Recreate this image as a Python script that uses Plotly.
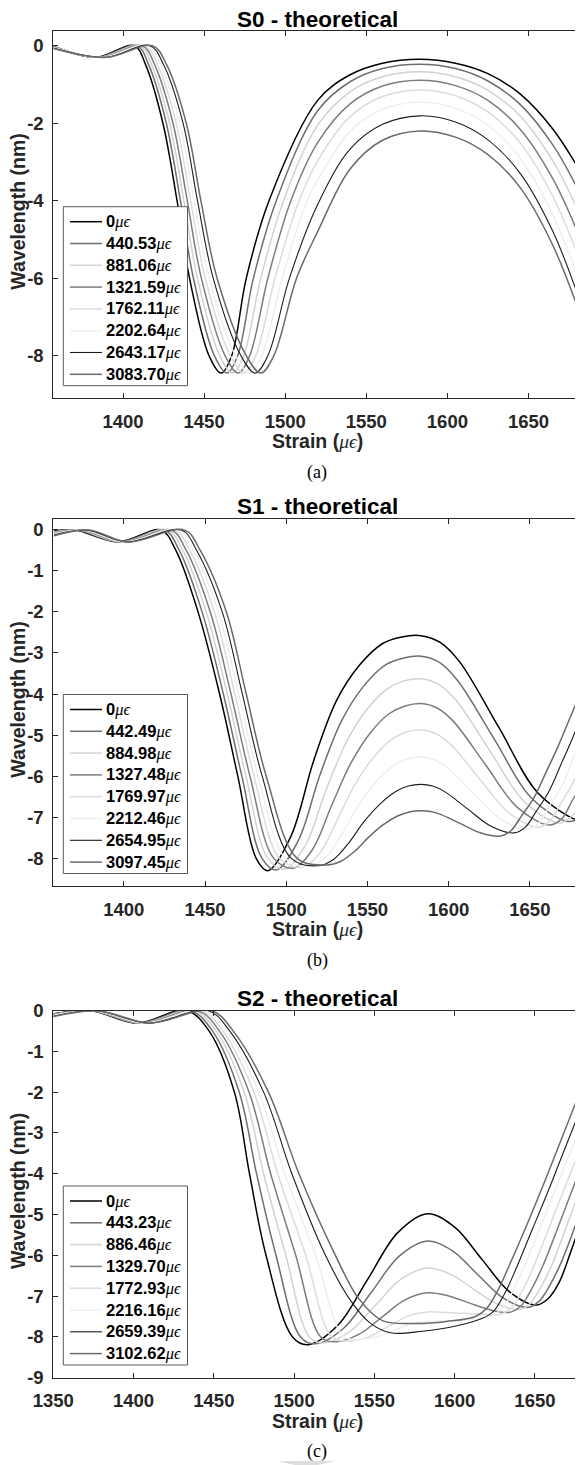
import plotly.graph_objects as go

# The page body has an 8 px default margin, so the figure is laid out in
# window pixels and shifted back by that offset.
WIN_W, WIN_H = 583, 1465
OFF = 8
W, H = WIN_W - OFF, WIN_H - OFF

# ---------------- styles per strain level (k = 0..7) ----------------
colors = ['#000000', '#6f6f6f', '#d2d2d2', '#7d7d7d', '#dcdcdc', '#efefef', '#1c1c1c', '#6a6a6a']
widths = [1.5, 1.5, 1.5, 1.5, 1.5, 1.5, 1.1, 1.5]

# ---------------- S0 ----------------
S0_labels = ['0', '440.53', '881.06', '1321.59', '1762.11', '2202.64', '2643.17', '3083.70']
S0_x = [
    [1357, 1383, 1407, 1414, 1424.6, 1433.3, 1441, 1453, 1460.5, 1467, 1476, 1490, 1520, 1540, 1560, 1583, 1605, 1625, 1645, 1665, 1682],
    [1357, 1384, 1408.6, 1415.9, 1426.7, 1435.4, 1443.4, 1456.3, 1464, 1470.7, 1480.4, 1494.5, 1520, 1540, 1560, 1583, 1605, 1625, 1645, 1665, 1682],
    [1357, 1385, 1410.2, 1417.7, 1428.7, 1437.5, 1445.9, 1459.6, 1467.5, 1474.4, 1484.9, 1499, 1520, 1540, 1560, 1583, 1605, 1625, 1645, 1665, 1682],
    [1357, 1386, 1411.8, 1419.6, 1430.8, 1439.6, 1448.3, 1462.9, 1471, 1478.1, 1489.3, 1503.5, 1520, 1540, 1560, 1583, 1605, 1625, 1645, 1665, 1682],
    [1357, 1387, 1413.4, 1421.4, 1432.8, 1441.7, 1450.7, 1466.2, 1474.5, 1481.8, 1493.7, 1508.5, 1520, 1540, 1560, 1583, 1605, 1625, 1645, 1665, 1682],
    [1357, 1388, 1415, 1423.3, 1434.9, 1443.8, 1453.1, 1469.4, 1478, 1485.6, 1498.1, 1513.5, 1520, 1540, 1560, 1583, 1605, 1625, 1645, 1665, 1682],
    [1357, 1389, 1416.6, 1425.1, 1437, 1445.9, 1455.6, 1472.7, 1481.5, 1489.3, 1502.6, 1520, 1540, 1560, 1583, 1605, 1625, 1645, 1665, 1682],
    [1357, 1390, 1418.2, 1427, 1439, 1448, 1458, 1476, 1485, 1493, 1507, 1520, 1540, 1560, 1583, 1605, 1625, 1645, 1665, 1682],
]
S0_y = [
    [-0.01, -0.30, 0.0, -0.5, -2, -4, -6, -8, -8.45, -8, -6, -4, -1.41, -0.75, -0.45, -0.35, -0.45, -0.72, -1.25, -2.15, -3.25],
    [-0.02, -0.30, 0.0, -0.5, -2, -4, -6, -8, -8.45, -8, -6, -4, -1.68, -0.93, -0.59, -0.48, -0.59, -0.91, -1.52, -2.56, -3.83],
    [-0.03, -0.30, 0.0, -0.5, -2, -4, -6, -8, -8.45, -8, -6, -4, -2.05, -1.19, -0.80, -0.67, -0.80, -1.15, -1.82, -2.97, -4.38],
    [-0.03, -0.30, 0.0, -0.5, -2, -4, -6, -8, -8.45, -8, -6, -4, -2.5, -1.50, -1.04, -0.89, -1.03, -1.41, -2.16, -3.43, -4.98],
    [-0.04, -0.30, 0.0, -0.5, -2, -4, -6, -8, -8.45, -8, -6, -4, -2.97, -1.83, -1.31, -1.14, -1.29, -1.71, -2.51, -3.89, -5.57],
    [-0.05, -0.30, 0.0, -0.5, -2, -4, -6, -8, -8.45, -8, -6, -4, -3.47, -2.21, -1.64, -1.45, -1.61, -2.05, -2.91, -4.36, -6.15],
    [-0.06, -0.30, 0.0, -0.5, -2, -4, -6, -8, -8.45, -8, -6, -4.1, -2.67, -2.03, -1.81, -1.97, -2.43, -3.30, -4.79, -6.62],
    [-0.07, -0.30, 0.0, -0.5, -2, -4, -6, -8, -8.45, -8, -6, -4.8, -3.18, -2.44, -2.2, -2.36, -2.81, -3.67, -5.15, -6.95],
]

# ---------------- S1 ----------------
S1_labels = ['0', '442.49', '884.98', '1327.48', '1769.97', '2212.46', '2654.95', '3097.45']
S1_x = [
    [1357, 1370, 1396.5, 1423, 1432, 1445.7, 1459, 1470.2, 1481.5, 1488.7, 1502.8, 1517.0, 1531.1, 1545.3, 1559.4, 1571.2, 1583, 1595, 1607, 1631, 1655, 1679, 1682],
    [1357, 1371.2, 1397.4, 1425.1, 1434.1, 1448.2, 1461.3, 1472.7, 1485.1, 1493.9, 1507.3, 1520.6, 1534.0, 1547.4, 1560.7, 1571.9, 1583, 1594.3, 1605.5, 1628, 1650.5, 1673, 1682],
    [1357, 1372.4, 1398.3, 1427.1, 1436.3, 1450.7, 1463.7, 1475.2, 1488.7, 1499.1, 1511.7, 1524.3, 1536.9, 1549.4, 1562.0, 1572.5, 1583, 1593.6, 1604.3, 1625.5, 1646.8, 1668, 1675, 1682],
    [1357, 1373.6, 1399.2, 1429.2, 1438.4, 1453.2, 1466, 1477.7, 1492.3, 1504.3, 1516.1, 1527.9, 1539.7, 1551.5, 1563.3, 1573.2, 1583, 1592.9, 1602.8, 1622.5, 1642.3, 1662, 1670, 1676, 1682],
    [1357, 1374.8, 1400.1, 1431.3, 1440.6, 1455.7, 1468.4, 1480.2, 1495.9, 1509.5, 1520.5, 1531.6, 1542.6, 1553.6, 1564.6, 1573.8, 1583, 1592, 1601, 1619, 1637, 1655, 1662, 1669, 1676, 1682],
    [1357, 1376, 1401, 1433.4, 1442.7, 1458.2, 1470.7, 1482.7, 1499.5, 1514.7, 1524.9, 1535.2, 1545.4, 1555.7, 1565.9, 1574.5, 1583, 1591.1, 1599.3, 1615.5, 1631.8, 1648, 1655, 1662, 1670, 1676, 1682],
    [1357, 1377.2, 1401.9, 1435.4, 1444.8, 1460.6, 1473, 1485.2, 1503.1, 1519.8, 1529.3, 1538.8, 1548.2, 1557.7, 1567.2, 1575.1, 1583, 1590.1, 1597.3, 1611.5, 1625.8, 1640, 1647, 1654, 1661.5, 1670, 1676, 1682],
    [1357, 1378.4, 1402.8, 1437.5, 1447, 1463.1, 1475.4, 1487.7, 1506.7, 1525, 1533.7, 1542.4, 1551.1, 1559.8, 1568.5, 1575.8, 1583, 1589, 1595, 1607, 1619, 1631, 1638, 1645, 1652.5, 1660, 1667, 1674.5, 1682],
]
S1_y = [
    [-0.03, -0.01, -0.30, -0.01, -0.5, -2, -4, -6, -8, -8.30, -7.47, -5.61, -4.15, -3.29, -2.77, -2.61, -2.58, -2.75, -3.23, -4.82, -6.41, -7.06, -7.04],
    [-0.05, -0.01, -0.30, -0.01, -0.5, -2, -4, -6, -8, -8.28, -7.58, -5.99, -4.66, -3.82, -3.30, -3.13, -3.08, -3.23, -3.67, -5.09, -6.51, -7.10, -7.00],
    [-0.06, -0.01, -0.30, -0.01, -0.5, -2, -4, -6, -8, -8.26, -7.69, -6.36, -5.18, -4.39, -3.88, -3.68, -3.63, -3.76, -4.14, -5.39, -6.63, -7.14, -7.00, -6.70],
    [-0.08, -0.01, -0.30, -0.01, -0.5, -2, -4, -6, -8, -8.24, -7.79, -6.72, -5.69, -4.96, -4.48, -4.29, -4.23, -4.34, -4.66, -5.71, -6.76, -7.19, -7.02, -6.60, -6.20],
    [-0.10, -0.01, -0.30, -0.01, -0.5, -2, -4, -6, -8, -8.22, -7.88, -7.05, -6.18, -5.55, -5.11, -4.93, -4.87, -4.96, -5.22, -6.06, -6.89, -7.24, -7.10, -6.67, -6.20, -5.68],
    [-0.12, -0.01, -0.30, -0.01, -0.5, -2, -4, -6, -8, -8.20, -7.95, -7.35, -6.65, -6.12, -5.75, -5.58, -5.53, -5.60, -5.79, -6.42, -7.04, -7.30, -7.16, -6.73, -6.22, -5.63, -5.07],
    [-0.13, -0.01, -0.30, -0.01, -0.5, -2, -4, -6, -8, -8.18, -8.02, -7.61, -7.09, -6.68, -6.38, -6.24, -6.20, -6.24, -6.37, -6.79, -7.21, -7.38, -7.25, -6.85, -6.39, -5.64, -5.10, -4.50],
    [-0.15, -0.01, -0.30, -0.01, -0.5, -2, -4, -6, -8, -8.16, -8.07, -7.82, -7.47, -7.18, -6.97, -6.87, -6.84, -6.86, -6.93, -7.15, -7.37, -7.46, -7.34, -6.96, -6.53, -5.90, -5.31, -4.60, -3.90],
]

# ---------------- S2 ----------------
S2_labels = ['0', '443.23', '886.46', '1329.70', '1772.93', '2216.16', '2659.39', '3102.62']
S2_x = [
    [1350, 1374, 1402, 1433, 1447, 1462.8, 1472.2, 1482.5, 1499, 1508.5, 1527.1, 1545.8, 1564.4, 1583, 1600, 1617, 1634, 1651, 1658, 1665, 1672, 1679],
    [1350, 1374.6, 1403.2, 1435.2, 1449.1, 1465.8, 1476.6, 1488.7, 1504, 1513, 1530.5, 1548, 1565.5, 1583, 1598.6, 1614.3, 1629.9, 1645.5, 1652.5, 1659.5, 1666.5, 1679],
    [1350, 1375.2, 1404.4, 1437.4, 1451.3, 1468.9, 1481, 1494.8, 1509.5, 1518, 1534.3, 1550.5, 1566.8, 1583, 1597.3, 1611.5, 1625.8, 1640, 1647, 1654, 1661, 1670, 1679],
    [1350, 1375.8, 1405.6, 1439.6, 1453.4, 1471.9, 1485.4, 1501, 1516.5, 1526, 1540.3, 1554.5, 1568.8, 1583, 1595.8, 1608.5, 1621.3, 1634, 1641, 1648, 1655, 1665, 1679],
    [1350, 1376.4, 1406.8, 1441.8, 1455.6, 1474.9, 1489.8, 1507.2, 1523.5, 1534, 1546.3, 1558.5, 1570.8, 1583, 1594.3, 1605.5, 1616.8, 1628, 1635, 1642, 1649, 1659, 1669, 1679],
    [1350, 1377, 1408, 1444, 1457.7, 1478, 1494.2, 1513.4, 1531, 1542, 1552.3, 1562.5, 1572.8, 1583, 1600, 1622, 1629, 1636, 1643, 1653, 1663, 1679],
    [1350, 1377.6, 1409.2, 1446.2, 1459.8, 1481, 1498.6, 1519.5, 1535, 1547, 1560, 1580, 1600, 1617, 1624, 1631, 1638, 1648, 1658, 1668, 1679],
    [1350, 1378.2, 1410.4, 1448.4, 1462, 1484, 1503, 1525.7, 1540, 1555, 1575, 1595, 1613, 1620, 1627, 1634, 1645, 1657, 1668, 1679],
]
S2_y = [
    [-0.08, -0.01, -0.31, 0.0, -0.5, -2, -4, -6, -8, -8.19, -7.72, -6.59, -5.45, -4.98, -5.31, -6.10, -6.89, -7.22, -7.07, -6.67, -5.95, -5.15],
    [-0.09, -0.01, -0.31, 0.0, -0.5, -2, -4, -6, -8, -8.17, -7.80, -6.91, -6.02, -5.65, -5.89, -6.47, -7.04, -7.28, -7.13, -6.72, -6.16, -4.85],
    [-0.10, -0.01, -0.31, 0.0, -0.5, -2, -4, -6, -8, -8.15, -7.88, -7.23, -6.58, -6.31, -6.46, -6.82, -7.18, -7.33, -7.18, -6.76, -6.20, -5.25, -4.30],
    [-0.11, -0.01, -0.31, 0.0, -0.5, -2, -4, -6, -8, -8.12, -7.94, -7.52, -7.10, -6.92, -6.99, -7.16, -7.33, -7.40, -7.25, -6.82, -6.25, -5.25, -3.80],
    [-0.12, -0.01, -0.31, 0.0, -0.5, -2, -4, -6, -8, -8.10, -8.00, -7.75, -7.49, -7.39, -7.40, -7.42, -7.44, -7.45, -7.30, -6.88, -6.30, -5.30, -4.30, -3.30],
    [-0.13, -0.01, -0.31, 0.0, -0.5, -2, -4, -6, -8, -8.05, -7.99, -7.84, -7.68, -7.62, -7.60, -7.50, -7.33, -6.90, -6.30, -5.35, -4.35, -2.80],
    [-0.14, -0.01, -0.31, 0.0, -0.5, -2, -4, -6, -7.10, -7.65, -7.90, -7.86, -7.74, -7.55, -7.38, -6.95, -6.35, -5.40, -4.45, -3.45, -2.35],
    [-0.15, -0.01, -0.31, 0.0, -0.5, -2, -4, -6, -7.05, -7.60, -7.67, -7.62, -7.50, -7.30, -6.85, -6.25, -5.25, -4.10, -3.00, -1.90],
]

panels = [
    dict(title='S0 - theoretical', labels=S0_labels, xs=S0_x, ys=S0_y, xr=[1357, 1682.7], yr=[-9.1, 0.38],
         yt=[0, -2, -4, -6, -8], xt=[1400, 1450, 1500, 1550, 1600, 1650], top=31, bot=398.3,
         leg_top=206.7, cap='(a)'),
    dict(title='S1 - theoretical', labels=S1_labels, xs=S1_x, ys=S1_y, xr=[1356.6, 1681.8], yr=[-8.68, 0.26],
         yt=[0, -1, -2, -3, -4, -5, -6, -7, -8], xt=[1400, 1450, 1500, 1550, 1600, 1650], top=519, bot=886.3,
         leg_top=694.5, cap='(b)'),
    dict(title='S2 - theoretical', labels=S2_labels, xs=S2_x, ys=S2_y, xr=[1350, 1679], yr=[-9, 0],
         yt=[0, -1, -2, -3, -4, -5, -6, -7, -8, -9], xt=[1350, 1400, 1450, 1500, 1550, 1600, 1650], top=1010.5, bot=1377.7,
         leg_top=1186, cap='(c)'),
]

MU = '<span style="font-family:Liberation Serif, DejaVu Serif;font-style:italic;font-weight:normal">μϵ</span>'


def py(p):
    # window pixel (from top) -> paper fraction
    return 1 - (p - OFF) / H


def pxx(p):
    # window pixel (from left) -> paper fraction
    return (p - OFF) / W


fig = go.Figure()
x_left, x_right = 53.3, 581.5
layout = dict(width=W, height=H, margin=dict(l=0, r=0, t=0, b=0, autoexpand=False),
              paper_bgcolor='white', plot_bgcolor='white', showlegend=False)
annotations = []
shapes = []
axis_common = dict(showline=True, linecolor='#262626', linewidth=1, mirror='ticks', ticks='inside',
                   ticklen=5, tickcolor='#262626', tickwidth=1, showgrid=False, zeroline=False,
                   automargin=False,
                   tickfont=dict(family='Liberation Sans', size=18.5, color='#262626', weight='bold'))

for i, p in enumerate(panels):
    sfx = '' if i == 0 else str(i + 1)
    for k in range(8):
        fig.add_trace(go.Scatter(
            x=p['xs'][k], y=p['ys'][k], mode='lines',
            line=dict(color=colors[k], width=widths[k], shape='spline', smoothing=1.0),
            name=p['labels'][k], xaxis='x' + sfx, yaxis='y' + sfx, hoverinfo='skip'))
    layout['xaxis' + sfx] = dict(axis_common, domain=[pxx(x_left), pxx(x_right)], range=p['xr'],
                                 anchor='y' + sfx, tickvals=p['xt'], ticktext=[str(v) for v in p['xt']],
                                 ticklabelstandoff=6)
    layout['yaxis' + sfx] = dict(axis_common, domain=[py(p['bot']), py(p['top'])], range=p['yr'],
                                 anchor='x' + sfx, tickvals=p['yt'], ticktext=[str(v) for v in p['yt']],
                                 ticklabelstandoff=5)
    # legend box (drawn manually to match the MATLAB legend layout)
    lt = p['leg_top']
    shapes.append(dict(type='rect', xref='paper', yref='paper', x0=pxx(63.3), x1=pxx(187.5),
                       y0=py(lt + 179), y1=py(lt), fillcolor='white',
                       line=dict(color='#5a5a5a', width=1), layer='above'))
    for k in range(8):
        yc = lt + 15 + 21.8 * k
        shapes.append(dict(type='line', xref='paper', yref='paper', x0=pxx(70), x1=pxx(102),
                           y0=py(yc), y1=py(yc), line=dict(color=colors[k], width=widths[k]), layer='above'))
        annotations.append(dict(text='<b>' + p['labels'][k] + '</b>' + MU, x=pxx(104), y=py(yc),
                                xref='paper', yref='paper', showarrow=False, xanchor='left', yanchor='middle',
                                font=dict(family='Liberation Sans', size=16.5, color='#000000')))
    cx = pxx((x_left + x_right) / 2)
    annotations.append(dict(text='<b>' + p['title'] + '</b>', x=cx, y=py(p['top'] - 12), xref='paper', yref='paper',
                            showarrow=False, xanchor='center', yanchor='middle',
                            font=dict(family='Liberation Sans', size=22.5, color='#000000')))
    annotations.append(dict(text='<b>Wavelength (nm)</b>', x=pxx(18), y=py((p['top'] + p['bot']) / 2 - 3),
                            xref='paper', yref='paper', showarrow=False, textangle=-90,
                            xanchor='center', yanchor='middle',
                            font=dict(family='Liberation Sans', size=19.5, color='#262626')))
    annotations.append(dict(text='<b>Strain (</b>' + MU + '<b>)</b>', x=cx, y=py(p['bot'] + 43),
                            xref='paper', yref='paper', showarrow=False, xanchor='center', yanchor='middle',
                            font=dict(family='Liberation Sans', size=19.5, color='#262626')))
    annotations.append(dict(text=p['cap'], x=cx, y=py(p['bot'] + 74), xref='paper', yref='paper',
                            showarrow=False, xanchor='center', yanchor='middle',
                            font=dict(family='Liberation Serif', size=18, color='#000000')))

shapes.append(dict(type='path', xref='paper', yref='paper',
                   path='M %f,%f L %f,%f L %f,%f L %f,%f Z' % (pxx(277), py(1461), pxx(335), py(1461),
                                                              pxx(318), py(1465), pxx(295), py(1465)),
                   fillcolor='#dddddd', line=dict(width=0)))
layout['annotations'] = annotations
layout['shapes'] = shapes
fig.update_layout(**layout)
fig.write_html('out.html')
